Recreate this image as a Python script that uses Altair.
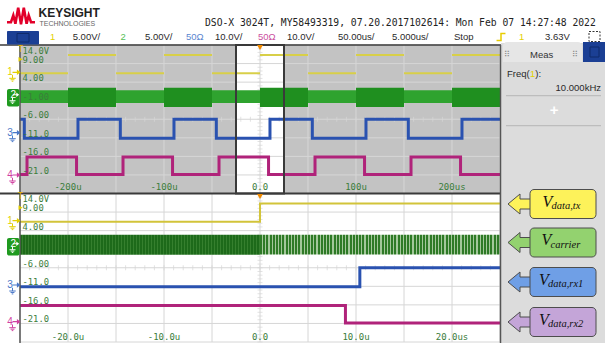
import altair as alt
import pandas as pd

# ---- acquisition: time spans (µs) and vertical graticule (V) ----
MAIN_SPAN = [-250, 250]          # 50.00 µs/div
ZOOM_SPAN = [-25, 25]            # 5.000 µs/div
V_SPAN = [-26, 14]               # 5 V/div, 8 divisions
TRIGGER_T = [0]

# ch1  V_data,tx : interval starts (µs) and logic state of each interval
TX_T = [-250, -200, -150, -100, -50, 0, 50, 100, 150, 200]
TX_STATE = [0, 1, 0, 1, 0, 1, 0, 1, 0, 1]
TX_LEVEL = [6.4, 11.3]

# ch2  V_carrier : envelope (min, max) while tx is low / high
CARRIER_MAIN = [(-1.6, 1.8), (-2.7, 2.5)]
CARRIER_ZOOM = [(-2.5, 2.9), (-2.4, 2.9)]

# ch3  V_data,rx1
RX1_T = [-250, -245.5, -189.6, -145.5, -89.6, -45.5, 10.4, 54.5, 110.4, 154.5, 210.4]
RX1_STATE = [1, 0, 1, 0, 1, 0, 1, 0, 1, 0, 1]
RX1_LEVEL = [-11.1, -6.0]

# ch4  V_data,rx2
RX2_T = [-250, -242.7, -191.1, -142.7, -91.1, -42.7, 8.9, 57.3, 108.9, 157.3, 208.9]
RX2_STATE = [0, 1, 0, 1, 0, 1, 0, 1, 0, 1, 0]
RX2_LEVEL = [-20.9, -16.2]

# graticule labels
V_TICKS = [14, 9, 4, -1, -6, -11, -16, -21]
V_TICK_TEXT = ["14.0V", "9.00", "4.00", "-1.00", "-6.00", "-11.0", "-16.0", "-21.0"]
MAIN_TICKS = [-200, -100, 0, 100, 200]
MAIN_TICK_TEXT = ["-200u", "-100u", "0.0", "100u", "200us"]
ZOOM_TICKS = [-20, -10, 0, 10, 20]
ZOOM_TICK_TEXT = ["-20.0u", "-10.0u", "0.0", "10.0u", "20.0us"]

# measurement and signal names
MEAS_NAME = "Freq("
MEAS_VALUE = "10.000kHz"
SIGNAL_SUB = ["data,tx", "carrier", "data,rx1", "data,rx2"]

# ---- layout and style ----
W, H = 605, 343
PLOT_X = [20, 500]
MAIN_Y = [193.5, 45]
ZOOM_Y = [342, 193.5]
YEL, GRN, BLU, MAG = "#d8cf48", "#2fa32f", "#2a52b0", "#b0237a"
LBL = "#3b7d3b"
GRID = "#d6d6d6"
MONO = "DejaVu Sans Mono"
SANS = "Liberation Sans"
SERIF = "Liberation Serif"

ONE = pd.DataFrame({"k": [0]})


def xq(span, field="t"):
    return alt.X(f"{field}:Q", axis=None,
                 scale=alt.Scale(domain=span, range=PLOT_X, nice=False, zero=False))


def yq(rng, field="v"):
    return alt.Y(f"{field}:Q", axis=None,
                 scale=alt.Scale(domain=V_SPAN, range=rng, nice=False, zero=False))


def PX(f):
    return alt.X(f"{f}:Q", scale=None, axis=None)


def PY(f):
    return alt.Y(f"{f}:Q", scale=None, axis=None)


def RAW(f):
    return alt.Color(f"{f}:N", scale=None, legend=None)


def box(x0, x1, y0, y1, **kw):
    return alt.Chart(ONE).mark_rect(**kw).encode(
        x=alt.value(x0), x2=alt.value(x1), y=alt.value(y0), y2=alt.value(y1))


def seg(x0, x1, y0, y1, **kw):
    return alt.Chart(ONE).mark_rule(**kw).encode(
        x=alt.value(x0), x2=alt.value(x1), y=alt.value(y0), y2=alt.value(y1))


def texts(rows, font=SANS, size=9.5, align="left", **kw):
    df = pd.DataFrame(rows, columns=["px", "py", "label", "c"])
    return alt.Chart(df).mark_text(font=font, fontSize=size, align=align,
                                   baseline="middle", **kw).encode(
        x=PX("px"), y=PY("py"), text="label:N", color=RAW("c"))


def intervals(starts, states, span):
    ends = list(starts[1:]) + [span[1]]
    out = []
    for a, b, s in zip(starts, ends, states):
        a, b = max(a, span[0]), min(b, span[1])
        if a < b:
            out.append((a, b, s))
    return out


def step_frame(starts, states, levels, span):
    iv = intervals(starts, states, span)
    pts = [(a, levels[s]) for a, b, s in iv] + [(span[1], levels[iv[-1][2]])]
    return pd.DataFrame(pts, columns=["t", "v"])


def trace(starts, states, levels, span, yrng, color, width):
    return alt.Chart(step_frame(starts, states, levels, span)).mark_line(
        interpolate="step-after", color=color, strokeWidth=width).encode(
        x=xq(span), y=yq(yrng))


def carrier(span, yrng, env, colors):
    rows = [(a, b, env[s][0], env[s][1], colors[s])
            for a, b, s in intervals(TX_T, TX_STATE, span)]
    df = pd.DataFrame(rows, columns=["t", "t2", "lo", "hi", "c"])
    return alt.Chart(df).mark_rect().encode(
        x=xq(span), x2="t2:Q", y=yq(yrng, "lo"), y2="hi:Q", color=RAW("c"))


def stripes(dark, light, n, duty):
    # vertical stripe texture: the individual carrier cycles at 5 µs/div
    stops = []
    for i in range(n):
        a, b, c = i / n, (i + duty) / n, (i + 1) / n
        stops += [{"offset": round(a, 5), "color": dark},
                  {"offset": round(b, 5), "color": dark},
                  {"offset": round(b, 5), "color": light},
                  {"offset": round(min(c, 1.0), 5), "color": light}]
    return {"gradient": "linear", "x1": 0, "x2": 1, "y1": 0, "y2": 0, "stops": stops}


def carrier_zoom(span, yrng, env, textures):
    out = []
    for a, b, s in intervals(TX_T, TX_STATE, span):
        df = pd.DataFrame({"t": [a], "t2": [b], "lo": [env[s][0]], "hi": [env[s][1]]})
        out.append(alt.Chart(df).mark_rect(fill=textures[s]).encode(
            x=xq(span), x2="t2:Q", y=yq(yrng, "lo"), y2="hi:Q"))
    return out


def graticule(span, yrng, step, minor):
    top, bot = yrng[1], yrng[0]
    vt = pd.DataFrame({"t": list(range(span[0], span[1] + 1, step))})
    hv = pd.DataFrame({"v": list(range(V_SPAN[0], V_SPAN[1] + 1, 5))})
    mt = pd.DataFrame({"t": list(range(span[0], span[1] + 1, minor)), "v": -6})
    mv = pd.DataFrame({"v": list(range(V_SPAN[0], V_SPAN[1] + 1)), "t": 0})
    return [
        alt.Chart(vt).mark_rule(color=GRID, strokeWidth=1).encode(
            x=xq(span), y=alt.value(top), y2=alt.value(bot)),
        alt.Chart(hv).mark_rule(color=GRID, strokeWidth=1).encode(
            y=yq(yrng), x=alt.value(PLOT_X[0]), x2=alt.value(PLOT_X[1])),
        alt.Chart(mt).mark_tick(orient="vertical", size=5, thickness=1, color=GRID).encode(
            x=xq(span), y=yq(yrng)),
        alt.Chart(mv).mark_tick(orient="horizontal", size=5, thickness=1, color=GRID).encode(
            x=xq(span), y=yq(yrng)),
    ]


def volt_labels(yrng):
    df = pd.DataFrame({"v": V_TICKS[1:], "label": V_TICK_TEXT[1:]})
    top = pd.DataFrame({"v": V_TICKS[:1], "label": V_TICK_TEXT[:1]})
    kw = dict(font=MONO, fontSize=8.8, align="left", baseline="middle", color=LBL)
    return [
        alt.Chart(df).mark_text(dy=-4, **kw).encode(
            x=alt.value(22.5), y=yq(yrng), text="label:N"),
        alt.Chart(top).mark_text(dy=5.5, **kw).encode(
            x=alt.value(22.5), y=yq(yrng), text="label:N"),
    ]


def time_labels(span, ticks, labels, ypix):
    df = pd.DataFrame({"t": ticks, "label": labels})
    return alt.Chart(df).mark_text(font=MONO, fontSize=9, align="center",
                                   baseline="middle", color=LBL).encode(
        x=xq(span), y=alt.value(ypix), text="label:N")


GROUND = "M 0 -1 L 0 0 M -1 0 L 1 0 M -0.6 0.45 L 0.6 0.45 M -0.25 0.9 L 0.25 0.9"
SMALL_ARROW = "M -1 -0.15 L 0.1 -0.15 L 0.1 -0.7 L 1 0 L 0.1 0.7 L 0.1 0.15 L -1 0.15 Z"
CALLOUT_ARROW = "M -1.15 0 L 0.05 -1 L 0.05 -0.5 L 1.2 -0.5 L 1.2 0.5 L 0.05 0.5 L 0.05 1 Z"
LOGO = ("M -1 0.45 L -0.72 0.45 L -0.55 -0.05 L -0.4 0.55 L -0.2 -0.6 L 0 0.6 "
        "L 0.2 -0.6 L 0.4 0.55 L 0.55 -0.05 L 0.72 0.45 L 1 0.45")
EDGE = "M -1 0.8 L 0 0.8 L 0 -0.8 L 1 -0.8"


def channel_markers(rows, box_rows):
    # rows: (y, digit, colour) ; box_rows: (y0, y1) for the selected channel
    df = pd.DataFrame(rows, columns=["py", "label", "c"])
    df["px"] = 10
    df["ax"] = 16.5
    df["gx"] = 12.5
    df["gy"] = df["py"] + 6
    out = [
        alt.Chart(df).mark_text(font=SANS, fontSize=10, align="center", baseline="middle").encode(
            x=PX("px"), y=PY("py"), text="label:N", color=RAW("c")),
        alt.Chart(df).mark_point(shape=SMALL_ARROW, filled=True, size=64, opacity=1).encode(
            x=PX("ax"), y=PY("py"), color=RAW("c")),
        alt.Chart(df).mark_point(shape=GROUND, filled=False, size=42, strokeWidth=1, opacity=1).encode(
            x=PX("gx"), y=PY("gy"), color=RAW("c")),
    ]
    y0, y1 = box_rows
    mid = (y0 + y1) / 2 - 3
    out += [
        box(7, 19.5, y0, y1, color="#1f9a1f", cornerRadius=2),
        texts([(10.5, mid, "2", "white")], size=10),
        alt.Chart(ONE).mark_point(shape=SMALL_ARROW, filled=True, size=40, color="white", opacity=1).encode(
            x=alt.value(16), y=alt.value(mid)),
        alt.Chart(ONE).mark_point(shape=GROUND, filled=False, size=36, strokeWidth=1, color="white", opacity=1).encode(
            x=alt.value(12.5), y=alt.value(mid + 6)),
    ]
    return out


layers = []

# ---- backgrounds ----
layers.append(box(501, W, 43, H, color="#dcdcdc"))
layers.append(box(PLOT_X[0], PLOT_X[1], MAIN_Y[1], MAIN_Y[0], color="#c3c3c3"))
zoom_win = pd.DataFrame({"t": [ZOOM_SPAN[0]], "t2": [ZOOM_SPAN[1]]})
layers.append(alt.Chart(zoom_win).mark_rect(color="white").encode(
    x=xq(MAIN_SPAN), x2="t2:Q", y=alt.value(MAIN_Y[1]), y2=alt.value(MAIN_Y[0])))

# ---- graticules ----
layers += graticule(MAIN_SPAN, MAIN_Y, 50, 10)
layers += graticule(ZOOM_SPAN, ZOOM_Y, 5, 1)
layers += volt_labels(ZOOM_Y)

# ---- overview traces ----
layers.append(carrier(MAIN_SPAN, MAIN_Y, CARRIER_MAIN, [GRN, "#1f8f1f"]))
tx_main = pd.DataFrame(
    [(a, b, TX_LEVEL[s]) for a, b, s in intervals(TX_T, TX_STATE, MAIN_SPAN)],
    columns=["t", "t2", "v"])
layers.append(alt.Chart(tx_main).mark_rule(color=YEL, strokeWidth=2).encode(
    x=xq(MAIN_SPAN), x2="t2:Q", y=yq(MAIN_Y)))
layers.append(trace(RX1_T, RX1_STATE, RX1_LEVEL, MAIN_SPAN, MAIN_Y, BLU, 3))
layers.append(trace(RX2_T, RX2_STATE, RX2_LEVEL, MAIN_SPAN, MAIN_Y, MAG, 3))
layers += volt_labels(MAIN_Y)
layers.append(time_labels(MAIN_SPAN, MAIN_TICKS, MAIN_TICK_TEXT, 186.5))

# ---- zoomed traces ----
layers += carrier_zoom(ZOOM_SPAN, ZOOM_Y, CARRIER_ZOOM,
                       [stripes("#1d6a1a", "#357f2e", 80, 0.6),
                        stripes("#2e7a26", "#a3c79a", 75, 0.6)])
layers.append(trace(TX_T, TX_STATE, TX_LEVEL, ZOOM_SPAN, ZOOM_Y, "#d2c43a", 2))
layers.append(trace(RX1_T, RX1_STATE, RX1_LEVEL, ZOOM_SPAN, ZOOM_Y, BLU, 3))
layers.append(trace(RX2_T, RX2_STATE, RX2_LEVEL, ZOOM_SPAN, ZOOM_Y, MAG, 3))
layers.append(time_labels(ZOOM_SPAN, ZOOM_TICKS, ZOOM_TICK_TEXT, 336.5))

# ---- frames ----
layers.append(alt.Chart(zoom_win).mark_rect(filled=False, stroke="#3a3a3a", strokeWidth=2).encode(
    x=xq(MAIN_SPAN), x2="t2:Q", y=alt.value(MAIN_Y[1]), y2=alt.value(MAIN_Y[0])))
layers.append(seg(0, 501, 45, 45, color="#3a3a3a", strokeWidth=1.5))
layers.append(seg(0, 501, 193.5, 193.5, color="#3a3a3a", strokeWidth=2))
layers.append(seg(20, 20, 45, H, color="#555555", strokeWidth=1.5))
layers.append(seg(500.5, 500.5, 45, H, color="#555555", strokeWidth=1.5))

# trigger-position markers
trig = pd.DataFrame({"t": TRIGGER_T})
for yy in (47.5, 196.5):
    layers.append(alt.Chart(trig).mark_point(shape="triangle-down", filled=True, size=36,
                                             color="#f08a00", opacity=1).encode(
        x=xq(MAIN_SPAN if yy < 100 else ZOOM_SPAN), y=alt.value(yy)))

# trigger level / time markers at the left edge
layers.append(texts([(20.5, 50, "T", "#e8b400"), (20.5, 197, "T", "#e8b400")], font=MONO, size=8, align="center"))
layers.append(alt.Chart(pd.DataFrame({"py": [59.3, 207.7]})).mark_point(
    shape="triangle-right", filled=True, size=22, color="#e0cc00", opacity=1).encode(
    x=alt.value(20.5), y=PY("py")))

layers += channel_markers([(72.3, "1", "#e3d000"), (132.7, "3", "#4a78c8"), (175, "4", "#d040a0")], (89, 106.5))
layers += channel_markers([(220.7, "1", "#e3d000"), (285, "3", "#4a78c8"), (321.7, "4", "#d040a0")], (238, 255.5))

# ---- header ----
layers.append(alt.Chart(ONE).mark_point(shape=LOGO, filled=False, size=784, strokeWidth=2.6,
                                        color="#e2002a", opacity=1, strokeJoin="miter").encode(
    x=alt.value(21), y=alt.value(16)))
layers.append(texts([(38.5, 12.5, "KEYSIGHT", "#222222")], size=12, fontWeight="bold"))
layers.append(texts([(39.5, 23.5, "TECHNOLOGIES", "#666666")], size=7))
layers.append(texts([(205, 22.5, "DSO-X 3024T, MY58493319, 07.20.2017102614: Mon Feb 07 14:27:48 2022",
                      "#222222")], font=MONO, size=9.7))
layers.append(box(7, 39, 31, 44.5, color="#1b3f94", cornerRadius=1))
layers.append(box(17, 29, 33.5, 42, filled=False, stroke="#0f2a6a", strokeWidth=1))
layers.append(texts([
    (50, 37, "1", "#e3d000"), (72.7, 37, "5.00V/", "#2a2a2a"),
    (120.5, 37, "2", "#55c055"), (145, 37, "5.00V/", "#2a2a2a"),
    (186, 37, "50Ω", "#5b86d0"), (215, 37, "10.0V/", "#2a2a2a"),
    (258, 37, "50Ω", "#cc4fa0"), (287, 37, "10.0V/", "#2a2a2a"),
    (338, 37, "50.00us/", "#2a2a2a"), (392, 37, "5.000us/", "#2a2a2a"),
    (454, 37, "Stop", "#2a2a2a"), (519, 37, "1", "#e3d000"),
    (545, 37, "3.63V", "#2a2a2a"),
], size=9.5))
layers.append(alt.Chart(ONE).mark_point(shape=EDGE, filled=False, size=80, strokeWidth=1.5,
                                        color="#e8cc00", opacity=1).encode(
    x=alt.value(501), y=alt.value(37)))
layers.append(box(589, 600, 31.5, 41.5, filled=False, stroke="#333333", strokeWidth=1, strokeDash=[2, 1.5]))

# ---- measurement panel ----
layers.append(box(503, 582, 42, 62, color="#e6e6e6", cornerRadiusTopLeft=4, cornerRadiusTopRight=4))
layers.append(box(583, W, 42, 62, color="#1b3f94"))
layers.append(box(590, 599, 47, 57, filled=False, stroke="#0f2a6a", strokeWidth=1))
layers.append(texts([(541.7, 55, "Meas", "#333333")], size=9.5, align="center"))
layers.append(texts([(507, 55, "⠿", "#8a8a8a"), (575, 55, "⠿", "#8a8a8a")], font="DejaVu Sans", size=8, align="center"))
layers.append(texts([(507, 74, MEAS_NAME, "#2a2a2a"), (530, 74, "1", "#e3d000"),
                     (535.3, 74, "):", "#2a2a2a")], size=9.5))
layers.append(texts([(601, 88.3, MEAS_VALUE, "#2a2a2a")], size=9.5, align="right"))
layers.append(seg(506, 601, 95.7, 95.7, color="#b5b5b5", strokeWidth=1))
layers.append(seg(506, 601, 125.7, 125.7, color="#b5b5b5", strokeWidth=1))
layers.append(texts([(554, 110, "+", "white")], size=15, align="center", fontWeight="bold"))

# ---- signal name callouts ----
call = pd.DataFrame({
    "sub": SIGNAL_SUB,
    "fill": ["#fdf25a", "#93d26f", "#6f9fe6", "#c4a5d8"],
    "cy": [204, 242.5, 282, 322],
    "vx": [542.5, 541.5, 539, 539],
    "sx": [551.5, 550.5, 548, 548],
})
call["ax"] = 519.5
call["y0"] = call["cy"] - 14.5
call["y1"] = call["cy"] + 14.5
call["vy"] = call["cy"] + 2.5
call["sy"] = call["cy"] + 5
layers.append(alt.Chart(call).mark_point(shape=CALLOUT_ARROW, filled=True, size=400,
                                         stroke="#4d4d4d", strokeWidth=1, opacity=1).encode(
    x=PX("ax"), y=PY("cy"), fill=alt.Fill("fill:N", scale=None, legend=None)))
layers.append(alt.Chart(call).mark_rect(cornerRadius=4, stroke="#4d4d4d", strokeWidth=1).encode(
    x=alt.value(530), x2=alt.value(596), y=PY("y0"), y2="y1:Q",
    fill=alt.Fill("fill:N", scale=None, legend=None)))
layers.append(alt.Chart(call).mark_text(text="V", font=SERIF, fontSize=16, fontStyle="italic",
                                        align="left", baseline="alphabetic", color="#111111").encode(
    x=PX("vx"), y=PY("vy")))
layers.append(alt.Chart(call).mark_text(font=SERIF, fontSize=10.5, fontStyle="italic",
                                        align="left", baseline="alphabetic", color="#111111").encode(
    x=PX("sx"), y=PY("sy"), text="sub:N"))

chart = alt.layer(*layers).resolve_scale(
    x="independent", y="independent", color="independent", fill="independent"
).properties(
    width=W, height=H, padding=0, background="white",
    autosize=alt.AutoSizeParams(type="none"),
).configure_view(stroke=None)

chart.save("out.html", embed_options={"renderer": "svg", "actions": False})
